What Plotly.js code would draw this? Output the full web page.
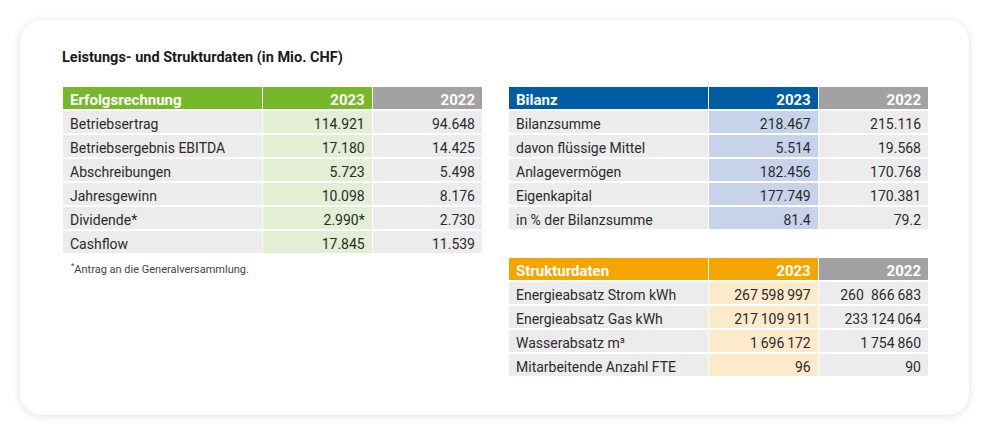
<!DOCTYPE html>
<html>
<head>
<meta charset="utf-8">
<script src="https://cdn.plot.ly/plotly-3.0.1.min.js"></script>
<style>
  html, body { margin: 0; padding: 0; background: #ffffff; width: 1000px; height: 446px; overflow: hidden; }
  #card { position: absolute; left: 20px; top: 20px; width: 949px; height: 395px; border-radius: 22px;
          background: #ffffff; box-shadow: 0 1px 9px rgba(0,0,0,0.13); }
  #chart { position: absolute; left: 0; top: 0; width: 1000px; height: 446px; }
</style>
</head>
<body>
<div id="card"></div>
<div id="chart"></div>
<script>
// ---- Data ----
const years = ["2023", "2022"];

const erfolgTitle = "Erfolgsrechnung";
const erfolgLabels = ["Betriebsertrag", "Betriebsergebnis EBITDA", "Abschreibungen", "Jahresgewinn", "Dividende*", "Cashflow"];
const erfolg2023 = ["114.921", "17.180", "5.723", "10.098", "2.990*", "17.845"];
const erfolg2022 = ["94.648", "14.425", "5.498", "8.176", "2.730", "11.539"];

const bilanzTitle = "Bilanz";
const bilanzLabels = ["Bilanzsumme", "davon flüssige Mittel", "Anlagevermögen", "Eigenkapital", "in % der Bilanzsumme"];
const bilanz2023 = ["218.467", "5.514", "182.456", "177.749", "81.4"];
const bilanz2022 = ["215.116", "19.568", "170.768", "170.381", "79.2"];

const strukturTitle = "Strukturdaten";
const strukturLabels = ["Energieabsatz Strom kWh", "Energieabsatz Gas kWh", "Wasserabsatz m³", "Mitarbeitende Anzahl FTE"];
const struktur2023 = ["267\u2009598\u2009997", "217\u2009109\u2009911", "1\u2009696\u2009172", "96"];
const struktur2022 = ["260\u2002866\u2009683", "233\u2009124\u2009064", "1\u2009754\u2009860", "90"];

const chartTitle = "Leistungs- und Strukturdaten (in Mio. CHF)";
const footnote = "<sup>*</sup>Antrag an die Generalversammlung.";

// ---- Styles ----
const W = 1000, H = 446;
const FONT = "Roboto, 'Open Sans', sans-serif";
const gray = "#a2a2a2";
const rowBg = "#ececec";

function makeTable(title, labels, v23, v22, headColor, lightColor, x0, x1, yTop, yBot) {
  const n = labels.length;
  return {
    type: "table",
    domain: { x: [x0 / W, x1 / W], y: [1 - yBot / H, 1 - yTop / H] },
    columnwidth: [200, 110, 110],
    header: {
      values: [title, years[0], years[1]],
      align: ["left", "right", "right"],
      fill: { color: [headColor, headColor, gray] },
      font: { family: FONT, size: 15, color: "#ffffff", weight: 700 },
      line: { color: "#ffffff", width: 1.5 },
      height: 24
    },
    cells: {
      values: [labels, v23, v22],
      align: ["left", "right", "right"],
      fill: { color: [Array(n).fill(rowBg), Array(n).fill(lightColor), Array(n).fill(rowBg)] },
      font: { family: FONT, size: 14, color: "#2b2b2b" },
      line: { color: "#ffffff", width: 1.5 },
      height: 24
    }
  };
}

const data = [
  makeTable(erfolgTitle, erfolgLabels, erfolg2023, erfolg2022, "#76b82a", "#e2efd4", 62, 483, 86, 300),
  makeTable(bilanzTitle, bilanzLabels, bilanz2023, bilanz2022, "#005da3", "#c7d3ea", 508, 929, 86, 250),
  makeTable(strukturTitle, strukturLabels, struktur2023, struktur2022, "#f5a500", "#fdeacb", 508, 929, 257, 400)
];

const layout = {
  width: W, height: H,
  margin: { l: 0, r: 0, t: 0, b: 0 },
  paper_bgcolor: "rgba(0,0,0,0)",
  plot_bgcolor: "rgba(0,0,0,0)",
  showlegend: false,
  title: {
    text: chartTitle,
    x: 62 / W, xanchor: "left", xref: "paper",
    y: 1 - 57 / H, yanchor: "middle", yref: "container",
    font: { family: FONT, size: 14.5, color: "#1a1a1a", weight: 700 }
  },
  annotations: [{
    text: footnote, xref: "paper", yref: "paper",
    x: 69 / W, y: 1 - 268 / H, xanchor: "left", yanchor: "middle",
    showarrow: false, font: { family: FONT, size: 11, color: "#444444" }
  }]
};

Plotly.newPlot("chart", data, layout, { displayModeBar: false, staticPlot: true });
</script>
</body>
</html>
